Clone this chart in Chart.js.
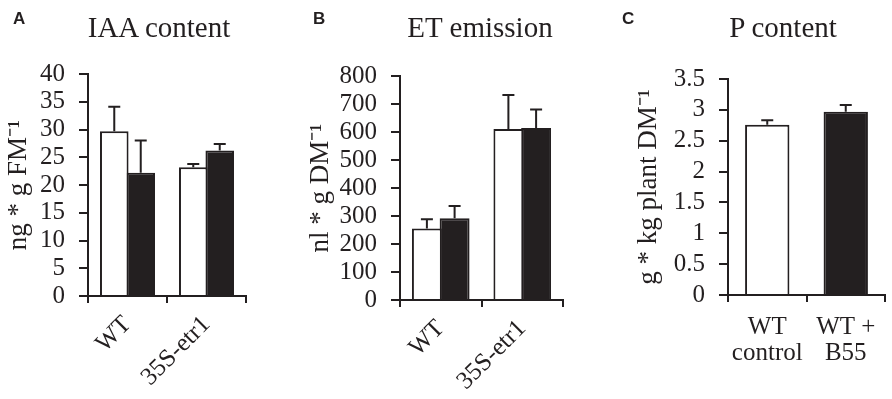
<!DOCTYPE html>
<html><head><meta charset="utf-8">
<script src="https://cdn.jsdelivr.net/npm/chart.js@4.4.1/dist/chart.umd.min.js"></script>
<style>
html,body{margin:0;padding:0;background:#fff;}
#wrap{position:relative;width:892px;height:399px;overflow:hidden;background:#fff;}
canvas{position:absolute;top:0;}
.ttl{position:absolute;font-family:'Liberation Serif','Times New Roman',serif;font-size:29px;line-height:29px;color:#231f20;text-align:center;white-space:nowrap;}
.lbl{position:absolute;font-family:'Liberation Sans',Arial,sans-serif;font-weight:bold;font-size:17px;line-height:17px;color:#231f20;}
</style></head><body>
<div id="wrap">
  <canvas id="cA" width="300" height="399" style="left:0px;width:300px;height:399px"></canvas>
  <canvas id="cB" width="300" height="399" style="left:300px;width:300px;height:399px"></canvas>
  <canvas id="cC" width="292" height="399" style="left:600px;width:292px;height:399px"></canvas>
  <div class="lbl" style="left:13px;top:10px">A</div>
  <div class="lbl" style="left:313px;top:10px">B</div>
  <div class="lbl" style="left:622px;top:10px">C</div>
  <div class="ttl" style="left:59px;width:200px;top:13px">IAA content</div>
  <div class="ttl" style="left:380px;width:200px;top:13px">ET emission</div>
  <div class="ttl" style="left:683px;width:200px;top:13px">P content</div>
</div>
<script>
// ---- data ----
const iaaCategories = ['WT', '35S-etr1'];
const iaaWhite = [29.7, 23.2];
const iaaWhiteErr = [4.4, 0.6];
const iaaBlack = [22.2, 26.2];
const iaaBlackErr = [5.8, 1.2];
const iaaAxisTitle = 'ng * g FM\u207B\u00B9';

const etCategories = ['WT', '35S-etr1'];
const etWhite = [255, 611];
const etWhiteErr = [33, 121];
const etBlack = [292, 614];
const etBlackErr = [44, 66];
const etAxisTitle = 'nl * g DM\u207B\u00B9';

const pCategories = [['WT', 'control'], ['WT +', 'B55']];
const pValues = [2.76, 2.97];
const pErr = [0.07, 0.11];
const pAxisTitle = 'g * kg plant DM\u207B\u00B9';

// ---- style ----
const INK = '#231f20';
const SERIF = "'Liberation Serif','Times New Roman',serif";

const errorBars = {
  id: 'errorBars',
  afterDatasetsDraw(chart, args, opts) {
    const errs = opts.errors || [];
    const ctx = chart.ctx;
    const ys = chart.scales.y;
    chart.data.datasets.forEach((ds, di) => {
      const e = errs[di];
      if (!e) return;
      const meta = chart.getDatasetMeta(di);
      meta.data.forEach((bar, i) => {
        const top = ys.getPixelForValue(ds.data[i] + e[i]);
        ctx.save();
        ctx.strokeStyle = INK;
        ctx.lineWidth = 2;
        ctx.beginPath();
        ctx.moveTo(bar.x, bar.y);
        ctx.lineTo(bar.x, top);
        ctx.moveTo(bar.x - 6, top);
        ctx.lineTo(bar.x + 6, top);
        ctx.stroke();
        ctx.restore();
      });
    });
  }
};

function panel(id, p) {
  return new Chart(document.getElementById(id), {
    type: 'bar',
    data: { labels: p.labels, datasets: p.datasets },
    options: {
      responsive: false,
      animation: false,
      events: [],
      layout: { padding: { left: 0, top: p.top, right: p.right, bottom: 0 } },
      plugins: {
        legend: { display: false },
        tooltip: { enabled: false },
        title: { display: false },
        errorBars: { errors: p.errors }
      },
      datasets: { bar: { categoryPercentage: p.catPct, barPercentage: p.barPct } },
      scales: {
        x: {
          offset: true,
          grid: { display: true, drawOnChartArea: false, drawTicks: true, tickLength: 7, color: INK, lineWidth: 2, offset: true },
          border: { display: true, color: INK, width: 2 },
          ticks: {
            color: INK, autoSkip: false,
            minRotation: p.rot, maxRotation: p.rot,
            padding: p.xPad,
            font: { family: SERIF, size: 25, lineHeight: p.xLine }
          },
          afterFit(s) { s.height = p.xHeight; }
        },
        y: {
          min: 0, max: p.max,
          grid: { display: true, drawOnChartArea: false, drawTicks: true, tickLength: 9, color: INK, lineWidth: 2 },
          border: { display: true, color: INK, width: 2 },
          ticks: {
            stepSize: p.step, autoSkip: false, color: INK, padding: 14,
            font: { family: SERIF, size: 25 },
            callback: (v) => String(Math.round(v * 100) / 100)
          },
          title: {
            display: true, text: p.yTitle, color: INK,
            font: { family: SERIF, size: 27, lineHeight: 1.2 },
            padding: { top: p.tPad, bottom: 0 }
          },
          afterFit(s) { s.width = p.yWidth; }
        }
      }
    },
    plugins: [errorBars]
  });
}

function barDs(data, color) {
  return { data: data, backgroundColor: color, borderColor: INK, borderWidth: 2, borderSkipped: 'start' };
}

panel('cA', {
  labels: iaaCategories,
  datasets: [barDs(iaaWhite, '#ffffff'), barDs(iaaBlack, INK)],
  errors: [iaaWhiteErr, iaaBlackErr],
  top: 74, right: 54, yWidth: 88, xHeight: 103,
  catPct: 0.67, barPct: 1.08, max: 40, step: 5, yTitle: iaaAxisTitle, tPad: 3,
  rot: 45, xPad: 7, xLine: 1.2
});

panel('cB', {
  labels: etCategories,
  datasets: [barDs(etWhite, '#ffffff'), barDs(etBlack, INK)],
  errors: [etWhiteErr, etBlackErr],
  top: 76, right: 37, yWidth: 100, xHeight: 99,
  catPct: 0.68, barPct: 1.08, max: 800, step: 100, yTitle: etAxisTitle, tPad: 5,
  rot: 45, xPad: 7, xLine: 1.2
});

panel('cC', {
  labels: pCategories,
  datasets: [barDs(pValues, ['#ffffff', INK])],
  errors: [pErr],
  top: 79, right: 7, yWidth: 128, xHeight: 104,
  catPct: 0.565, barPct: 1, max: 3.5, step: 0.5, yTitle: pAxisTitle, tPad: 33,
  rot: 0, xPad: 12, xLine: 1.06
});
</script>
</body></html>
